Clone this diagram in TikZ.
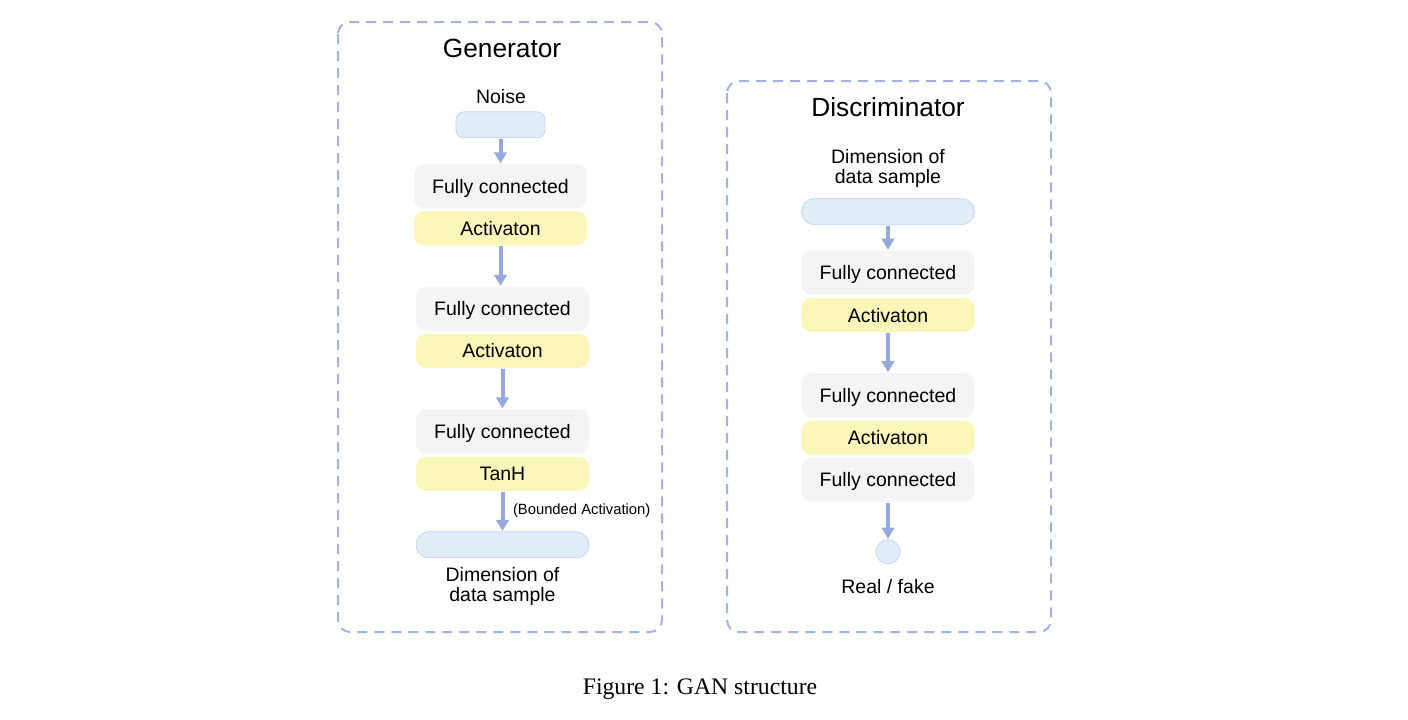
\documentclass[tikz,border=0pt]{standalone}
\usepackage{fontspec}
\setmainfont{Liberation Sans}
\newfontfamily\capfont{Liberation Serif}
\usetikzlibrary{positioning,arrows.meta}
\definecolor{framecol}{RGB}{163,178,224}
\definecolor{arrowcol}{RGB}{150,168,220}
\definecolor{iofill}{RGB}{226,236,248}
\definecolor{ioline}{RGB}{196,212,240}
\definecolor{fcfill}{RGB}{244,244,244}
\definecolor{actfill}{RGB}{250,245,185}
\begin{document}
\begin{tikzpicture}[x=1pt,y=-1pt]
    \tikzstyle{arrow} = [line width=4pt, draw=arrowcol, -{Triangle[width=12.5pt,length=11pt]}, shorten >= 1pt, shorten <= 1pt]
    \tikzstyle{frame} = [draw=framecol, line width=2pt, dash pattern=on 10pt off 7pt, rounded corners=12pt]
    \tikzstyle{title} = [inner sep=2pt, outer sep=0pt, font=\fontsize{26.3}{30}\selectfont]
    \tikzstyle{txt} = [inner sep=2pt, outer sep=0pt, align=center, font=\fontsize{19.5}{20}\selectfont]
    \tikzstyle{note} = [inner sep=2pt, text depth=0pt, font=\fontsize{14.8}{17}\selectfont]
    \tikzstyle{fc} = [rectangle, rounded corners=10pt, fill=fcfill, minimum width=173pt, minimum height=44pt, inner sep=0pt, outer sep=0pt, text depth=0pt, font=\fontsize{19.5}{20}\selectfont]
    \tikzstyle{act} = [fc, fill=actfill, minimum height=34pt]
    \tikzstyle{io} = [rectangle, rounded corners=13pt, fill=iofill, draw=ioline, line width=0.8pt, minimum width=173pt, minimum height=26pt, inner sep=0pt, outer sep=0pt]
    \useasboundingbox (0,0) rectangle (1408,720);

    % generator
    \draw[frame] (338,22) rectangle (662,632);
    \node[title](gtitle) at (502,48){Generator};
    \node[txt, text depth=0pt, below = 28.4pt of gtitle, xshift=-1pt](noiselab){Noise};
    \node[io, minimum width=89pt, rounded corners=8pt, below = 6pt of noiselab, xshift=-0.5pt](noise){};
    \node[fc, below = 26.5pt of noise](fc1g){Fully connected};
    \node[act, below = 3pt of fc1g](act1g){Activaton};
    \node[fc, below = 41.5pt of act1g, xshift=2pt](fc2g){Fully connected};
    \node[act, below = 3pt of fc2g](act2g){Activaton};
    \node[fc, below = 41.5pt of act2g](fc3g){Fully connected};
    \node[act, below = 3.5pt of fc3g](tanh){TanH};
    \node[io, below = 41pt of tanh](outg){};
    \node[txt, below = 7.5pt of outg](outglab){Dimension of\\data sample};

    \draw[arrow](noise)--(fc1g);
    \draw[arrow](act1g.south)--(act1g.south |- fc2g.north);
    \draw[arrow](act2g)--(fc3g);
    \draw[arrow](tanh)--(outg) node[note, right, pos=0.45, xshift=6.5pt]{(Bounded Activation)};

    % discriminator
    \draw[frame] (727,81) rectangle (1051,632);
    \node[title](dtitle) at (888,107){Discriminator};
    \node[txt, below = 28.4pt of dtitle](inlab){Dimension of\\data sample};
    \node[io, below = 9.5pt of inlab](ind){};
    \node[fc, below = 26pt of ind](fc1d){Fully connected};
    \node[act, below = 3.5pt of fc1d](act1d){Activaton};
    \node[fc, below = 41pt of act1d](fc2d){Fully connected};
    \node[act, below = 3.5pt of fc2d](act2d){Activaton};
    \node[fc, below = 3pt of act2d](fc3d){Fully connected};
    \node[circle, fill=iofill, draw=ioline, line width=0.8pt, minimum size=24pt, inner sep=0pt, outer sep=0pt, below = 38pt of fc3d](real){};
    \node[txt, text depth=0pt, below = 13.5pt of real](reallab){Real / fake};

    \draw[arrow](ind)--(fc1d);
    \draw[arrow](act1d)--(fc2d);
    \draw[arrow](fc3d)--(real);

    \node[font=\capfont\fontsize{23.7}{28}\selectfont](caption) at (700,689){Figure 1: GAN structure};
\end{tikzpicture}
\end{document}
